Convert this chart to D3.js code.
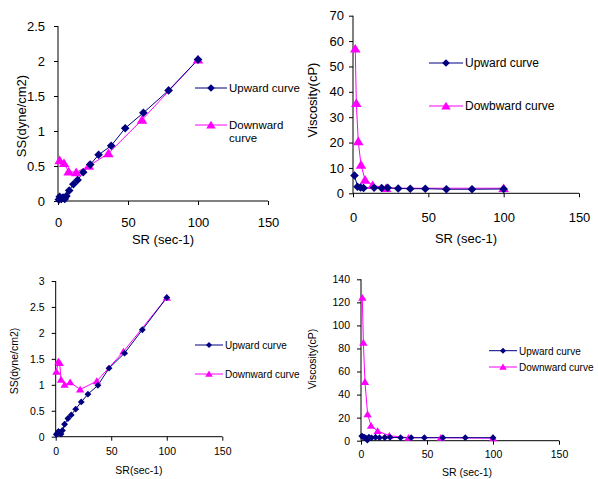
<!DOCTYPE html>
<html>
<head>
<meta charset="utf-8">
<script src="https://cdn.jsdelivr.net/npm/d3@7"></script>
<style>
  body { margin: 0; background: #fff; }
  svg text { font-family: "Liberation Sans", Arial, sans-serif; fill: #000; }
</style>
</head>
<body>
<div id="chart"></div>
<script>
// top left: shear stress vs shear rate
var sr1Up = [0.6, 1.2, 2.4, 3.6, 4.8, 6, 8, 11, 14, 18, 23, 29, 38, 48, 61, 79, 100]
var ss1Up = [0.02, 0.06, 0.03, 0.05, 0.03, 0.07, 0.15, 0.24, 0.3, 0.41, 0.52, 0.66, 0.79, 1.04, 1.26, 1.58, 2.02]
var sr1Dn = [1.2, 4.3, 7.6, 13, 22, 36, 60, 100]
var ss1Dn = [0.58, 0.54, 0.42, 0.41, 0.5, 0.68, 1.16, 2.02]

// top right: viscosity vs shear rate
var sr2Up = [1, 3, 5, 7, 14, 19, 23, 30, 38, 48, 62, 79, 100]
var vis2Up = [7, 2.6, 2.3, 2.1, 2.2, 2.1, 2.2, 1.9, 1.8, 1.8, 1.6, 1.6, 1.7]
var sr2Dn = [1.5, 2.2, 3.5, 5.3, 8, 13, 22, 100]
var vis2Dn = [57, 35.5, 20.5, 11.2, 5.3, 3.2, 2, 2]

// bottom left
var sr3Up = [0.6, 1.2, 2.4, 3.6, 4.8, 6, 8, 11, 14, 18, 23, 29, 38, 48, 62, 78, 100]
var ss3Up = [0.04, 0.06, 0.1, 0.08, 0.05, 0.12, 0.24, 0.35, 0.42, 0.53, 0.67, 0.82, 0.99, 1.32, 1.61, 2.06, 2.68]
var sr3Dn = [0.6, 2.4, 3.6, 4.8, 8, 13, 22, 37, 61, 100]
var ss3Dn = [1.25, 1.45, 1.42, 1.1, 1.0, 1.05, 0.91, 1.07, 1.64, 2.68]

// bottom right
var sr4Up = [0.6, 1.2, 2.4, 3.6, 4.8, 6, 8, 11, 14, 18, 22, 30, 38, 48, 62, 79, 100]
var vis4Up = [4, 3.5, 3, 2.5, 0.5, 3, 2.5, 3, 2.6, 2.8, 2.9, 2.6, 2.6, 2.6, 2.6, 2.6, 2.6]
var sr4Dn = [1, 1.8, 3, 5, 7.6, 12.6, 21.5, 36, 60.5, 100]
var vis4Dn = [124, 85, 51, 23, 13, 8.4, 4.3, 2.6, 2.6, 2.2]

var xTicks = [0, 50, 100, 150]

var navy = "#000080", pink = "#ff00ff"

var svg = d3.select("#chart").append("svg")
  .attr("width", 598)
  .attr("height", 479)

function diamond(r) { return `M0,${-r}L${r},0L0,${r}L${-r},0Z` }
function triangle(r) { return `M0,${-r}L${r * 1.1},${r * 0.8}L${-r * 1.1},${r * 0.8}Z` }

function panel(p) {
  var x = d3.scaleLinear().domain([0, 150]).range([p.x0, p.x1])
  var y = d3.scaleLinear().domain([0, p.ymax]).range([p.y0, p.y1])
  var g = svg.append("g")

  var yAxis = d3.axisLeft(y).tickValues(d3.range(0, p.ymax + p.ystep / 2, p.ystep))
    .tickSize(4).tickPadding(p.yPad).tickFormat(d3.format("~g"))
  var ya = g.append("g").attr("transform", `translate(${p.x0},0)`).call(yAxis)
  var xAxis = d3.axisBottom(x).tickValues(xTicks).tickSize(4).tickPadding(p.xPad)
  var xa = g.append("g").attr("transform", `translate(0,${p.y0})`).call(xAxis)
  ;[ya, xa].forEach(function(a) {
    a.select(".domain").attr("stroke", "#000")
    a.selectAll("line").attr("stroke", "#000")
    a.selectAll("text").style("font-size", p.tickFont + "px").attr("fill", "#000")
  })
  ya.select(".domain").attr("d", `M0,${p.y0}V${p.y1}`)
  xa.select(".domain").attr("d", `M${p.x0},0H${p.x1}`)

  var line = d3.line().x(function(d) { return x(d[0]) }).y(function(d) { return y(d[1]) })
  var up = p.upX.map(function(v, i) { return [v, p.upY[i]] })
  var dn = p.dnX.map(function(v, i) { return [v, p.dnY[i]] })

  g.append("path").datum(dn).attr("d", line).attr("fill", "none").attr("stroke", pink).attr("stroke-width", 1)
  g.append("path").datum(up).attr("d", line).attr("fill", "none").attr("stroke", navy).attr("stroke-width", 1)

  g.selectAll(".dn").data(dn).enter().append("path")
    .attr("transform", function(d) { return `translate(${x(d[0])},${y(d[1])})` })
    .attr("d", triangle(p.mk)).attr("fill", pink)
  g.selectAll(".up").data(up).enter().append("path")
    .attr("transform", function(d) { return `translate(${x(d[0])},${y(d[1])})` })
    .attr("d", diamond(p.mk * 0.9)).attr("fill", navy)

  // axis titles
  g.append("text").attr("x", p.xtX).attr("y", p.xtY).attr("text-anchor", "middle")
    .style("font-size", p.titleFont + "px").text(p.xTitle)
  g.append("text").attr("transform", `translate(${p.ytX},${p.ytY}) rotate(-90)`)
    .attr("text-anchor", "middle").style("font-size", p.titleFont + "px").text(p.yTitle)

  // legend
  var L = p.leg
  g.append("line").attr("x1", L.x).attr("x2", L.x + L.w).attr("y1", L.y1).attr("y2", L.y1).attr("stroke", navy)
  g.append("path").attr("transform", `translate(${L.x + L.w / 2},${L.y1})`).attr("d", diamond(p.mk * 0.8)).attr("fill", navy)
  g.append("text").attr("x", L.x + L.w + 2).attr("y", L.y1 + 4).style("font-size", p.legFont + "px").text("Upward curve")
  g.append("line").attr("x1", L.x).attr("x2", L.x + L.w).attr("y1", L.y2).attr("y2", L.y2).attr("stroke", pink)
  g.append("path").attr("transform", `translate(${L.x + L.w / 2},${L.y2})`).attr("d", triangle(p.mk * 0.9)).attr("fill", pink)
  var t = g.append("text").attr("x", L.x + L.w + 2).attr("y", L.y2 + 4).style("font-size", p.legFont + "px")
  if (L.wrap) {
    t.text(L.dnLabel[0])
    g.append("text").attr("x", L.x + L.w + 2).attr("y", L.y2 + 17).style("font-size", p.legFont + "px").text(L.dnLabel[1])
  } else {
    t.text(L.dnLabel)
  }
}

panel({x0: 58, x1: 268, y0: 201, y1: 26, ymax: 2.5, ystep: 0.5,
  upX: sr1Up, upY: ss1Up, dnX: sr1Dn, dnY: ss1Dn,
  yPad: 9, xPad: 13, tickFont: 13, titleFont: 13, legFont: 11.5, mk: 4.8,
  xTitle: "SR (sec-1)", xtX: 163, xtY: 244, yTitle: "SS(dyne/cm2)", ytX: 26, ytY: 116,
  leg: {x: 195, w: 32, y1: 88, y2: 125, wrap: true, dnLabel: ["Downward", "curve"]}})

panel({x0: 353, x1: 579, y0: 193.3, y1: 15.7, ymax: 70, ystep: 10,
  upX: sr2Up, upY: vis2Up, dnX: sr2Dn, dnY: vis2Dn,
  yPad: 5, xPad: 15, tickFont: 13, titleFont: 13, legFont: 12, mk: 4.8,
  xTitle: "SR (sec-1)", xtX: 466, xtY: 243, yTitle: "Viscosity(cP)", ytX: 317, ytY: 100,
  leg: {x: 429, w: 34, y1: 63, y2: 106, wrap: false, dnLabel: "Dowbward curve"}})

panel({x0: 55.7, x1: 222.3, y0: 436.7, y1: 281, ymax: 3, ystep: 0.5,
  upX: sr3Up, upY: ss3Up, dnX: sr3Dn, dnY: ss3Dn,
  yPad: 7, xPad: 7, tickFont: 10.5, titleFont: 10.5, legFont: 10, mk: 3.8,
  xTitle: "SR(sec-1)", xtX: 139, xtY: 474, yTitle: "SS(dyne/cm2)", ytX: 18, ytY: 361,
  leg: {x: 195, w: 28, y1: 345, y2: 374, wrap: false, dnLabel: "Downward curve"}})

panel({x0: 361, x1: 559, y0: 440.7, y1: 279.3, ymax: 140, ystep: 20,
  upX: sr4Up, upY: vis4Up, dnX: sr4Dn, dnY: vis4Dn,
  yPad: 7, xPad: 6, tickFont: 10.5, titleFont: 10.5, legFont: 10, mk: 3.8,
  xTitle: "SR (sec-1)", xtX: 467, xtY: 476, yTitle: "Viscosity(cP)", ytX: 316, ytY: 359,
  leg: {x: 489, w: 28, y1: 350.7, y2: 367, wrap: false, dnLabel: "Downward curve"}})
</script>
</body>
</html>
